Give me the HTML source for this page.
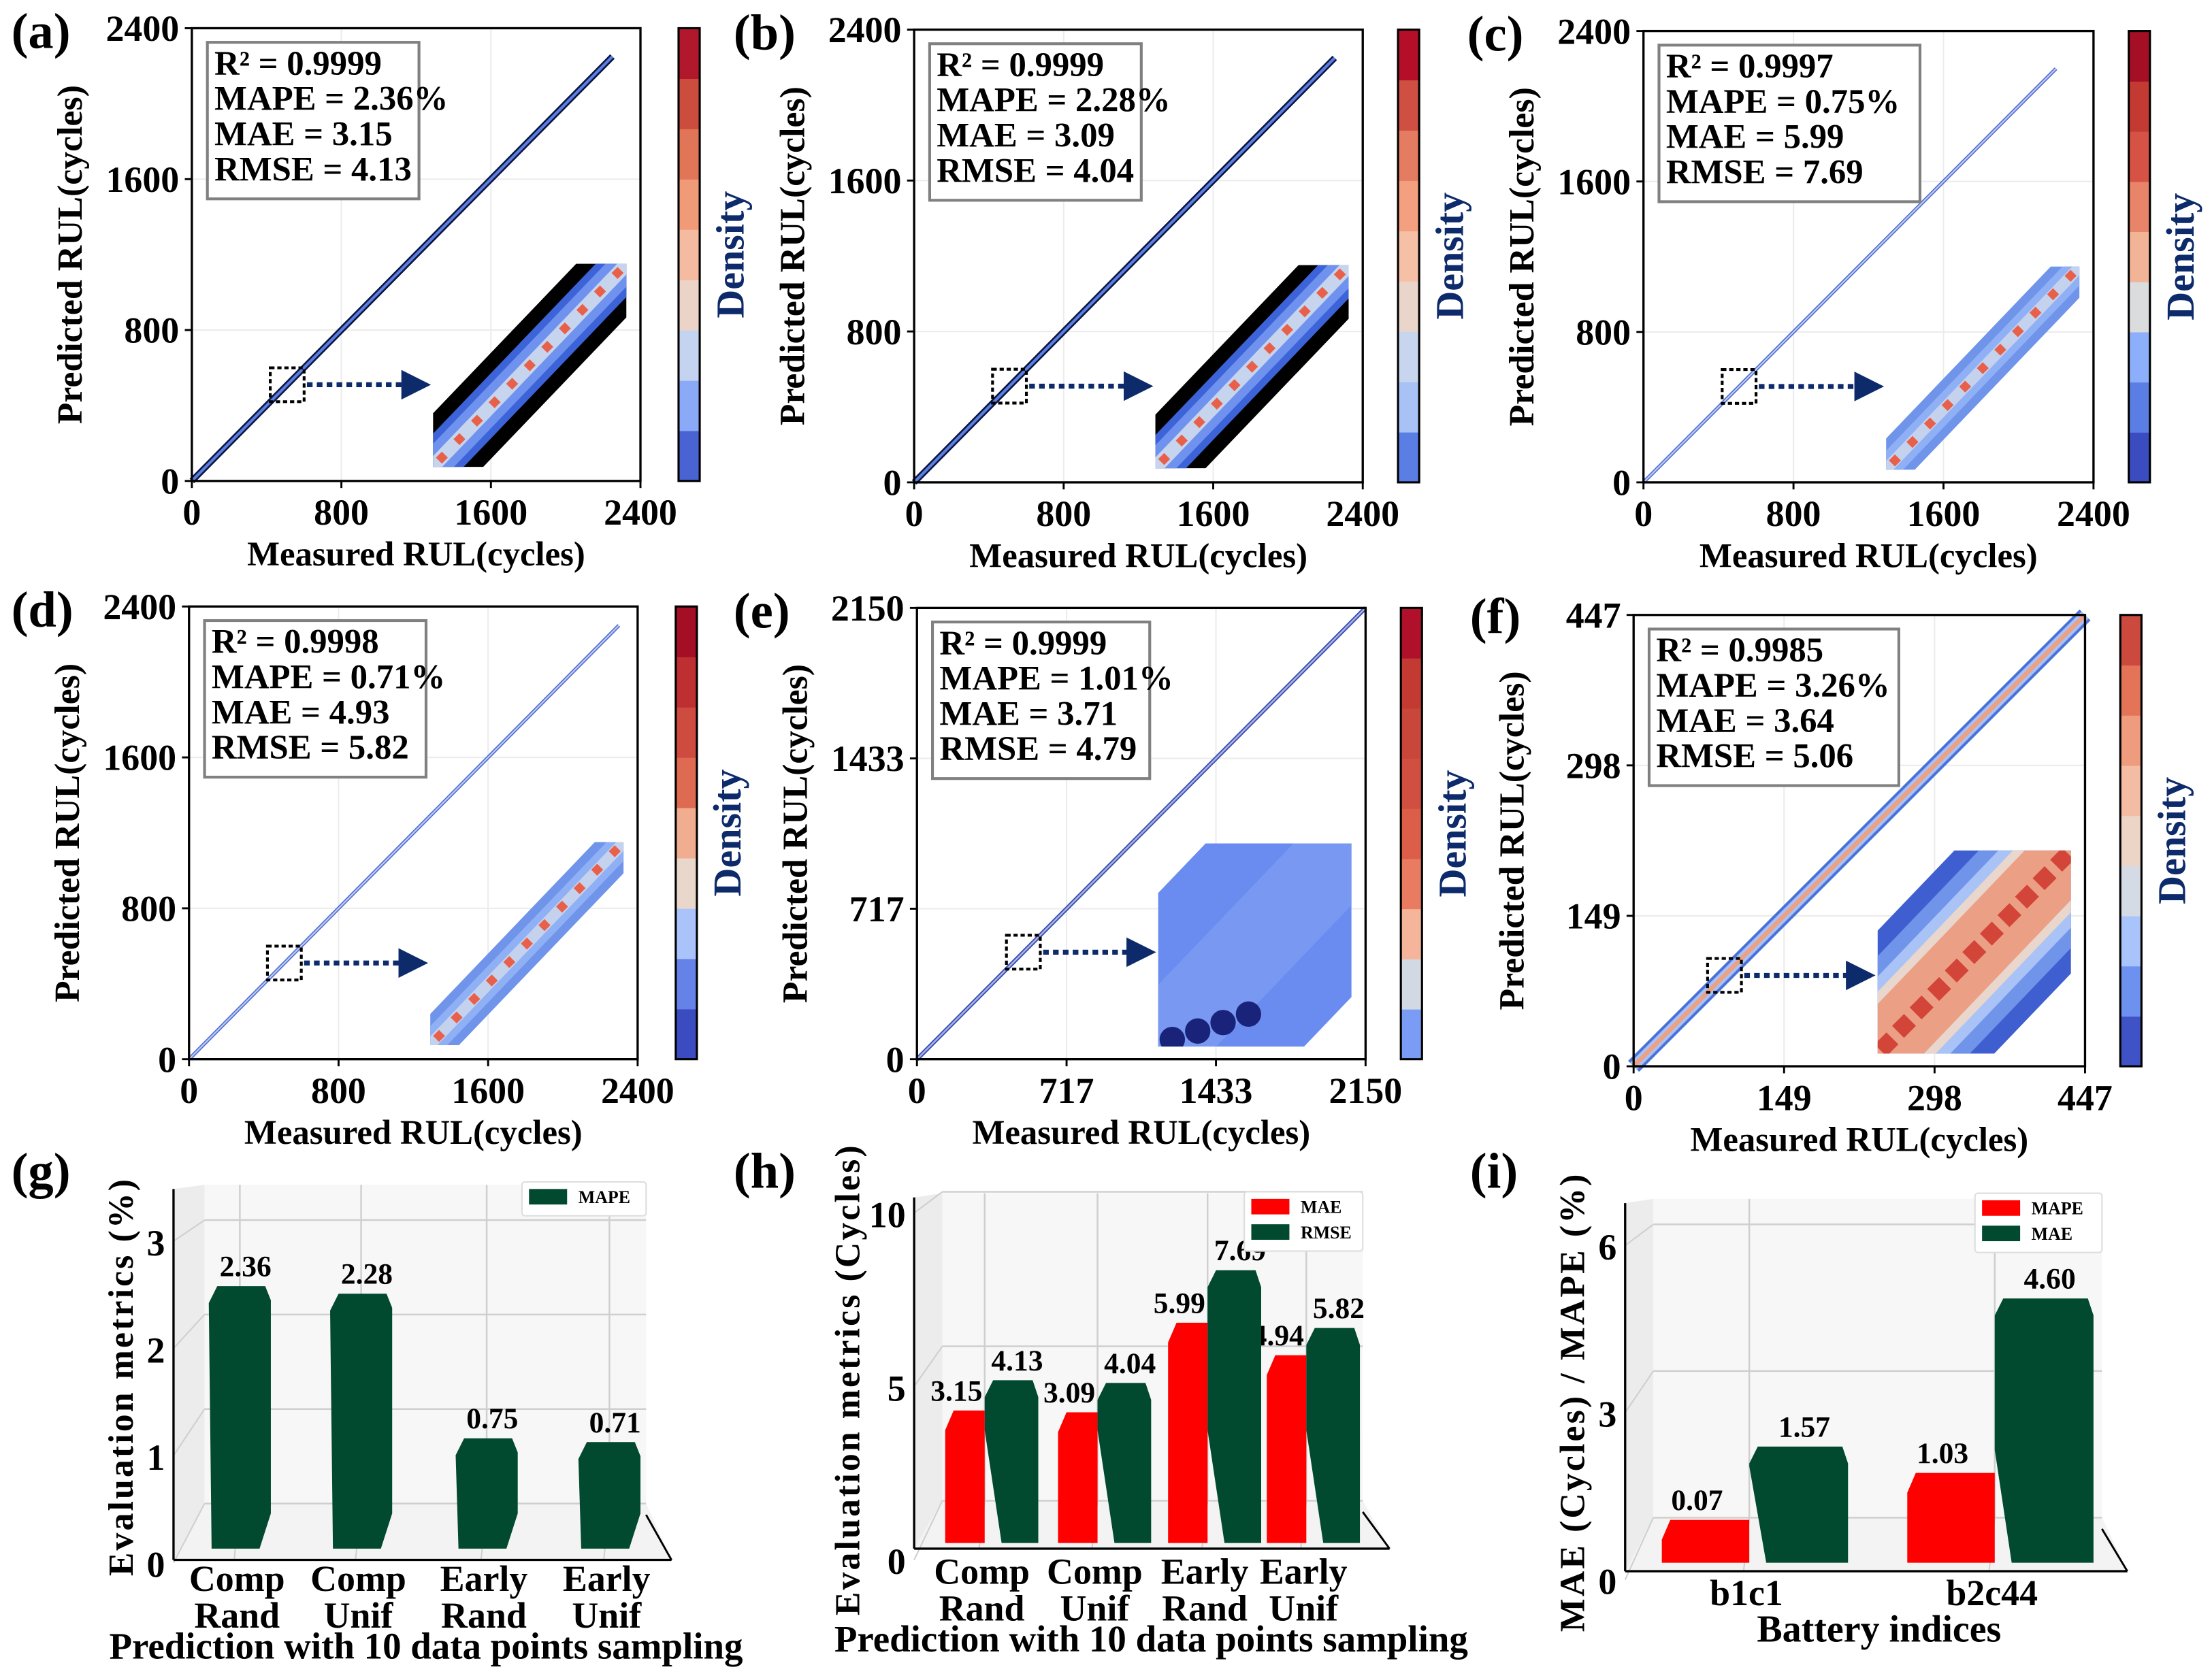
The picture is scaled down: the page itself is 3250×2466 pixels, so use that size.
<!DOCTYPE html>
<html><head><meta charset="utf-8"><style>
html,body{margin:0;padding:0;background:#fff}
svg{display:block}
text{font-family:"Liberation Serif",serif;font-weight:bold}
</style></head><body>
<svg id="fig" xmlns="http://www.w3.org/2000/svg" width="3250" height="2466" viewBox="0 0 1568 1189.7" preserveAspectRatio="none">
<defs>
<marker id="arrowHead" markerWidth="6" markerHeight="6" refX="3" refY="3" orient="auto"><path d="M0,0 L6,3 L0,6 z" fill="#0d2a6b"/></marker>
</defs>
</svg>
<script>
// ---------- scatter data ----------
const scatterLetters = ['(a)','(b)','(c)','(d)','(e)','(f)'];
const scatterTicks = [[0,800,1600,2400],[0,800,1600,2400],[0,800,1600,2400],[0,800,1600,2400],[0,717,1433,2150],[0,149,298,447]];
const scatterMax = [2400,2400,2400,2400,2150,447];
const dataEnd = [2250,2250,2200,2300,2150,447];
const zoomCenter = [510,510,510,510,510,90];
const statR2 = ['0.9999','0.9999','0.9997','0.9998','0.9999','0.9985'];
const statMAPE = ['2.36%','2.28%','0.75%','0.71%','1.01%','3.26%'];
const statMAE = ['3.15','3.09','5.99','4.93','3.71','3.64'];
const statRMSE = ['4.13','4.04','7.69','5.82','4.79','5.06'];
// ---------- bar data ----------
const gCats = [['Comp','Rand'],['Comp','Unif'],['Early','Rand'],['Early','Unif']];
const gMAPE = [2.36,2.28,0.75,0.71];
const gTicks = [0,1,2,3];
const hCats = [['Comp','Rand'],['Comp','Unif'],['Early','Rand'],['Early','Unif']];
const hMAE = [3.15,3.09,5.99,4.94];
const hRMSE = [4.13,4.04,7.69,5.82];
const hTicks = [0,5,10];
const iCats = [['b1c1'],['b2c44']];
const iMAPE = [0.07,1.03];
const iMAE = [1.57,4.60];
const iTicks = [0,3,6];

const NS='http://www.w3.org/2000/svg';
const svg=document.getElementById('fig');
function mk(tag,attrs,parent){const e=document.createElementNS(NS,tag);for(const k in attrs)e.setAttribute(k,attrs[k]);(parent||svg).appendChild(e);return e;}
function txt(s,attrs,parent){const e=mk('text',attrs,parent);e.textContent=s;return e;}

const cbPalettes=[
 ['#4a63d3','#8aaaf8','#c4d4f0','#ebd3c7','#f4bba0','#f19a78','#e07558','#cc4c3e','#b2182b'],
 ['#5b7ee5','#a8c2f5','#c7d6ee','#e9d5ca','#f5c0a6','#f39f80','#e47c62','#cf4f42','#b40e28'],
 ['#3b4cc0','#5a7ee4','#8daefb','#dbdcde','#f2b497','#e8846a','#d65244','#c33a32','#a50f26'],
 ['#3b4cc0','#6482e8','#aac4fb','#ead7cb','#f1ad8f','#de6a52','#cd4b3f','#bd2f30','#a50f26'],
 ['#7a9cf5','#d3d9e3','#f4b59a','#e97c60','#dc5d48','#d14f40','#c9463a','#c33a32','#b0102a'],
 ['#3f52c6','#6d91ee','#a8c4fb','#d4dbe4','#ecd4c7','#f4bda3','#ef9b7d','#e37458','#cb4a3d']
];
const layouts=[
 {x0:136,y0:20,x1:454,y1:341,cb:481,lx:8,ly:34,bw:150},
 {x0:648,y0:21,x1:966,y1:342,cb:991,lx:520,ly:35,bw:150},
 {x0:1165,y0:22,x1:1484,y1:342,cb:1509,lx:1040,ly:36,bw:185},
 {x0:134,y0:430,x1:452,y1:751,cb:479,lx:8,ly:444,bw:157},
 {x0:650,y0:431,x1:968,y1:751,cb:993,lx:520,ly:445,bw:154},
 {x0:1158,y0:436,x1:1478,y1:756,cb:1503,lx:1042,ly:449,bw:177}
];

function drawScatter(i){
 const L=layouts[i];
 const g=mk('g',{});
 
 
 const max=scatterMax[i];
 const sx=v=>L.x0+(L.x1-L.x0)*v/max;
 const sy=v=>L.y1-(L.y1-L.y0)*v/max;
 scatterTicks[i].forEach(t=>{
  if(t>0&&t<max){
   mk('line',{x1:sx(t),x2:sx(t),y1:L.y0,y2:L.y1,stroke:'#ececec','stroke-width':1},g);
   mk('line',{x1:L.x0,x2:L.x1,y1:sy(t),y2:sy(t),stroke:'#ececec','stroke-width':1},g);
  }
 });
 const e=dataEnd[i];
 if(i===5){
  mk('line',{x1:sx(0),y1:sy(0),x2:sx(e),y2:sy(e),stroke:'#4a73d8','stroke-width':11},g);
  mk('line',{x1:sx(0),y1:sy(0),x2:sx(e),y2:sy(e),stroke:'#a9c1f5','stroke-width':7},g);
  mk('line',{x1:sx(0),y1:sy(0),x2:sx(e),y2:sy(e),stroke:'#eea080','stroke-width':3},g);
 } else if(i<2){
  mk('line',{x1:sx(0),y1:sy(0),x2:sx(e),y2:sy(e),stroke:'#0b1440','stroke-width':4.5},g);
  mk('line',{x1:sx(0),y1:sy(0),x2:sx(e),y2:sy(e),stroke:'#5b7fe0','stroke-width':2},g);
 } else if(i===4){
  mk('line',{x1:sx(0),y1:sy(0),x2:sx(e),y2:sy(e),stroke:'#3050c0','stroke-width':3},g);
  mk('line',{x1:sx(0),y1:sy(0),x2:sx(e),y2:sy(e),stroke:'#b7b0d0','stroke-width':1.2},g);
 } else {
  mk('line',{x1:sx(0),y1:sy(0),x2:sx(e),y2:sy(e),stroke:'#4d6fdb','stroke-width':2.6},g);
  mk('line',{x1:sx(0),y1:sy(0),x2:sx(e),y2:sy(e),stroke:'#c8cde8','stroke-width':1},g);
 }
 mk('rect',{x:L.x0,y:L.y0,width:L.x1-L.x0,height:L.y1-L.y0,fill:'none',stroke:'#000','stroke-width':1.6},g);
 scatterTicks[i].forEach(t=>{
  mk('line',{x1:sx(t),x2:sx(t),y1:L.y1,y2:L.y1+5,stroke:'#000','stroke-width':1.4},g);
  mk('line',{x1:L.x0-5,x2:L.x0,y1:sy(t),y2:sy(t),stroke:'#000','stroke-width':1.4},g);
  const xt=txt(String(t),{x:sx(t),y:L.y1+31,'font-size':26,'text-anchor':'middle'},g);
  
  
  const yt=txt(String(t),{x:L.x0-9,y:sy(t)+9,'font-size':26,'text-anchor':'end'},g);
  
  
 });
 const xl=txt('Measured RUL(cycles)',{x:(L.x0+L.x1)/2,y:L.y1+60,'font-size':24.5,'text-anchor':'middle'},g);
 
 
 const ycx=L.x0-78, ycy=(L.y0+L.y1)/2;
 const yl=txt('Predicted RUL(cycles)',{x:ycx,y:ycy,'font-size':25,'text-anchor':'middle',transform:`rotate(-90 ${ycx} ${ycy})`},g);
 
 
 const lt=txt(scatterLetters[i],{x:L.lx,y:L.ly,'font-size':36},g);
 
 
 const bx=L.x0+11, by=L.y0+10;
 const box=mk('rect',{x:bx,y:by,width:L.bw,height:111,fill:'#fff',stroke:'#808080','stroke-width':2},g);
 
 
 const lines=['R² = '+statR2[i],'MAPE = '+statMAPE[i],'MAE = '+statMAE[i],'RMSE = '+statRMSE[i]];
 lines.forEach((s,k)=>{
  const t=txt(s,{x:bx+5,y:by+23+k*25,'font-size':24.5},g);
  
  
 });
 const zc=zoomCenter[i];
 const zx=sx(zc), zy=sy(zc);
 const zb=mk('rect',{x:zx-12,y:zy-12,width:24,height:24,fill:'none',stroke:'#000','stroke-width':2,'stroke-dasharray':'3,2'},g);
 
 
 const insX=L.x1-147, insY=L.y0+167, insW=137, insH=144;
 const ar=mk('line',{x1:zx+14,y1:zy,x2:insX-12,y2:zy,stroke:'#0d2a6b','stroke-width':3.5,'stroke-dasharray':'4,3','marker-end':'url(#arrowHead)'},g);
 
 
 const cid='clip'+i;
 const cp=mk('clipPath',{id:cid},g);
 mk('rect',{x:insX,y:insY,width:insW,height:insH},cp);
 const ig=mk('g',{'clip-path':`url(#${cid})`},g);
 
 
 const ax=insX-10, ay=insY+insH+10, bx2=insX+insW+10, by2=insY-10;
 const dl=(w,c)=>mk('line',{x1:ax,y1:ay,x2:bx2,y2:by2,stroke:c,'stroke-width':w},ig);
 if(i<2){dl(52,'#000');dl(32,'#3d63d8');dl(22,'#6e92ee');dl(10,'#c6d4ee');}
 else if(i<4){dl(30,'#6f94ea');dl(18,'#8fb0f5');dl(8,'#c5d2ee');}
 else if(i===4){dl(150,'#6a8cf0');dl(60,'#7898f2');
   for(let k=0;k<4;k++)mk('circle',{cx:insX+10+k*18,cy:insY+insH-5-k*6,r:9,fill:'#1a237a'},ig);}
 else {dl(120,'#3f5fd0');dl(95,'#6f94ea');dl(75,'#a9c3f7');dl(60,'#e9d6cc');dl(48,'#eba086');}
 if(i!==4){
  for(let k=0;k<11;k++){const f=(k+0.5)/11;const cx=insX+insW*f, cy=insY+insH*(1-f);
   mk('rect',{x:cx-(i===5?6:3),y:cy-(i===5?6:3),width:i===5?12:6,height:i===5?12:6,fill:i===5?'#d24538':'#e8604a',transform:`rotate(45 ${cx} ${cy})`},ig);}
 }
 const pal=cbPalettes[i];
 const cbh=(L.y1-L.y0)/pal.length;
 const cbg=mk('g',{},g);
 
 
 pal.forEach((c,k)=>{mk('rect',{x:L.cb,y:L.y1-(k+1)*cbh,width:15,height:cbh+0.3,fill:c},cbg);});
 mk('rect',{x:L.cb,y:L.y0,width:15,height:L.y1-L.y0,fill:'none',stroke:'#000','stroke-width':1.5},cbg);
 const dx=L.cb+46, dy=(L.y0+L.y1)/2;
 const dt=txt('Density',{x:dx,y:dy,'font-size':28,fill:'#0d2a6b','text-anchor':'middle',transform:`rotate(-90 ${dx} ${dy})`},g);
 
 
}
for(let i=0;i<6;i++)drawScatter(i);

function bar3D(B){
 const g=mk('g',{});
 
 
 mk('polygon',{points:`${B.fx},${B.top+3} ${B.bx},${B.top} ${B.bx},${B.backBot} ${B.fx},${B.frontBot}`,fill:'#ececec'},g);
 mk('rect',{x:B.bx,y:B.top,width:B.bx2-B.bx,height:B.backBot-B.top,fill:'#f7f7f7'},g);
 mk('polygon',{points:`${B.bx},${B.backBot} ${B.bx2},${B.backBot} ${B.fx2},${B.frontBot} ${B.fx},${B.frontBot}`,fill:'#f3f3f3'},g);
 const vy=v=>B.zero-v*B.scale;
 const fy=v=>B.fzero-v*B.fscale;
 B.ticks.forEach(t=>{
  mk('line',{x1:B.bx,x2:B.bx2,y1:vy(t)-(B.zero-B.backBot),y2:vy(t)-(B.zero-B.backBot),stroke:'#cfcfcf','stroke-width':1.2},g);
  mk('line',{x1:B.fx,y1:fy(t),x2:B.bx,y2:vy(t)-(B.zero-B.backBot),stroke:'#cfcfcf','stroke-width':1},g);
  const tl=txt(String(t),{x:B.fx-6,y:fy(t)+10,'font-size':26,'text-anchor':'end'},g);
  
  
 });
 B.centers.forEach(c=>{
  mk('line',{x1:c,x2:c,y1:B.top,y2:B.backBot,stroke:'#cfcfcf','stroke-width':1.2},g);
  mk('line',{x1:c,x2:c-4,y1:B.backBot,y2:B.frontBot,stroke:'#cfcfcf','stroke-width':1},g);
 });
 mk('line',{x1:B.fx,y1:B.top+3,x2:B.fx,y2:B.frontBot,stroke:'#000','stroke-width':1.6},g);
 mk('line',{x1:B.fx,y1:B.frontBot,x2:B.fx2,y2:B.frontBot,stroke:'#000','stroke-width':1.6},g);
 mk('line',{x1:B.fx2,y1:B.frontBot,x2:B.bx2,y2:B.backBot+8,stroke:'#000','stroke-width':1.4},g);
 B.series.forEach((S,si)=>{
  S.values.forEach((v,k)=>{
   const c=B.centers[k];
   const x0=c+S.off, x1=x0+S.w;
   const top=vy(v), bot=B.barBot;
   let pts;
   if(S.side==='left'){
    pts=`${x0},${top+14} ${x0+6},${top} ${x1},${top} ${x1},${bot} ${x0},${bot}`;
   } else {
    pts=`${x0},${top+12} ${x0+6},${top} ${x1-4},${top} ${x1},${top+10} ${x1},${bot-25} ${x1-8},${bot} ${x0+2},${bot}`;
    if(B.series.length>1) pts=`${x0},${top+12} ${x0+6},${top} ${x1-4},${top} ${x1},${top+12} ${x1},${bot} ${x0+12},${bot} ${x0},${Math.max(top+14,bot-80)}`;
   }
   const p=mk('polygon',{points:pts,fill:S.color},g);
   
   
   const lb=txt(v.toFixed(2),{x:S.side==='left'?x0+S.w/2-6:x0+S.w/2+4,y:top-7,'font-size':21,'text-anchor':'middle'},g);
   
   
  });
 });
 B.cats.forEach((cl,k)=>{
  cl.forEach((s,j)=>{
   const t=txt(s,{x:B.centers[k]-2,y:B.catY+j*26,'font-size':26,'text-anchor':'middle'},g);
   
   
  });
 });
 const xt=txt(B.xtitle,{x:B.xtx,y:B.xty,'font-size':B.xfs,'text-anchor':'middle'},g);
 
 
 const yt=txt(B.ytitle,{x:B.ytx,y:B.yty,'font-size':25,'text-anchor':'middle','letter-spacing':1.5,transform:`rotate(-90 ${B.ytx} ${B.yty})`},g);
 
 
 const pl=txt(B.letter,{x:B.lx,y:B.ly,'font-size':36},g);
 
 
 const lg=mk('g',{},g);
 
 
 mk('rect',{x:B.legX,y:B.legY,width:B.legW,height:6+B.series.length*18,fill:'#fff',stroke:'#ddd','stroke-width':1,rx:2},lg);
 B.series.forEach((S,si)=>{
  const sw=mk('rect',{x:B.legX+5,y:B.legY+5+si*18,width:27,height:11,fill:S.color},lg);
  
  
  const lt=txt(S.key,{x:B.legX+40,y:B.legY+15+si*18,'font-size':12.5},lg);
  
  
 });
}

bar3D({name:'bar-chart-g',letter:'(g)',lx:8,ly:842,
 fx:123,fx2:476,bx:145,bx2:458,top:840,backBot:1066,frontBot:1106,
 zero:1070,scale:67,fzero:1108,fscale:76,barBot:1098,ticks:gTicks,
 centers:[170,256,345,432],cats:gCats,catY:1128,
 series:[{key:'MAPE',values:gMAPE,color:'#024a2f',off:-22,w:44,side:'single'}],
 xtitle:'Prediction with 10 data points sampling',xtx:302,xty:1176,xfs:26.5,
 ytitle:'Evaluation metrics (%)',ytx:94,yty:976,
 legX:370,legY:838,legW:88});
bar3D({name:'bar-chart-h',letter:'(h)',lx:520,ly:842,
 fx:648,fx2:985,bx:668,bx2:966,top:846,backBot:1064,frontBot:1098,
 zero:1069,scale:21.9,fzero:1106,fscale:24.6,barBot:1094,ticks:hTicks,
 centers:[698,778,856,926],cats:hCats,catY:1123,
 series:[{key:'MAE',values:hMAE,color:'#ff0000',off:-28,w:28,side:'left'},
         {key:'RMSE',values:hRMSE,color:'#024a2f',off:0,w:38,side:'right'}],
 xtitle:'Prediction with 10 data points sampling',xtx:816,xty:1171,xfs:26.5,
 ytitle:'Evaluation metrics (Cycles)',ytx:609,yty:978,
 legX:882,legY:845,legW:84});
bar3D({name:'bar-chart-i',letter:'(i)',lx:1042,ly:842,
 fx:1152,fx2:1508,bx:1172,bx2:1490,top:850,backBot:1076,frontBot:1114,
 zero:1080,scale:34.65,fzero:1120,fscale:39.5,barBot:1108,ticks:iTicks,
 centers:[1240,1414],cats:iCats,catY:1138,
 series:[{key:'MAPE',values:iMAPE,color:'#ff0000',off:-62,w:62,side:'left'},
         {key:'MAE',values:iMAE,color:'#024a2f',off:0,w:70,side:'right'}],
 xtitle:'Battery indices',xtx:1332,xty:1164,xfs:27,
 ytitle:'MAE (Cycles) / MAPE (%)',ytx:1123,yty:994,
 legX:1400,legY:846,legW:90});
</script>
</body></html>
